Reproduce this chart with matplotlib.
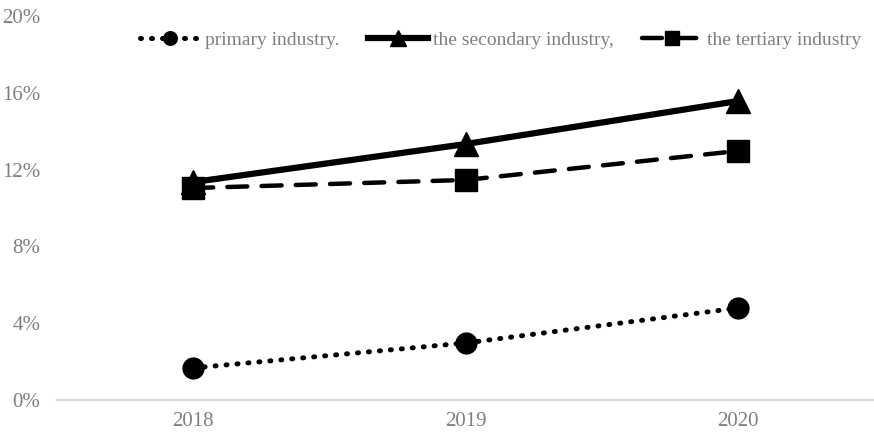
import matplotlib
matplotlib.use("Agg")
import matplotlib.pyplot as plt
from matplotlib.ticker import FuncFormatter

years = ["2018", "2019", "2020"]
primary = [1.67, 2.97, 4.79]
secondary = [11.35, 13.33, 15.57]
tertiary = [11.04, 11.46, 12.97]
labels = ["primary industry.", "the secondary industry,", "the tertiary industry"]

plt.rcParams["font.family"] = ["Liberation Serif", "DejaVu Serif"]
plt.rcParams["font.size"] = 15
grey = "#7f7f7f"

fig = plt.figure(figsize=(8.74, 4.38), dpi=100)
ax = fig.add_axes([57 / 874, 38 / 438, 817 / 874, 384 / 438])

x = list(range(len(years)))
ax.plot(x, primary, color="black", lw=3.6, ls=(0, (0.2, 2.0)), dash_capstyle="round",
        marker="o", markersize=15, label=labels[0])
ax.plot(x, secondary, color="black", lw=4.5, ls="-",
        marker="^", markersize=17, label=labels[1])
ax.plot(x, tertiary, color="black", lw=3.2, ls=(0, (4.5, 3.2)), dash_capstyle="round",
        marker="s", markersize=16, label=labels[2])

ax.set_xlim(-0.5, 2.5)
ax.set_ylim(0, 20)
ax.set_xticks(x)
ax.set_xticklabels(years)
ax.set_yticks([0, 4, 8, 12, 16, 20])
ax.yaxis.set_major_formatter(FuncFormatter(lambda v, p: f"{v:.0f}%"))
ax.tick_params(length=0, colors=grey, labelsize=15)
ax.tick_params(axis="x", pad=9)
ax.tick_params(axis="y", pad=12)

for s in ["top", "right", "left"]:
    ax.spines[s].set_visible(False)
ax.spines["bottom"].set_color("#d9d9d9")
ax.spines["bottom"].set_linewidth(1.5)

leg = fig.legend(loc="center", bbox_to_anchor=(501 / 874, 1 - 40 / 438), ncol=3,
                 frameon=False, handlelength=3.1, handletextpad=0.25,
                 columnspacing=1.45, markerscale=0.65, fontsize=14,
                 borderpad=0, borderaxespad=0)
for t in leg.get_texts():
    t.set_color(grey)

fig.savefig("out.png", dpi=100)
